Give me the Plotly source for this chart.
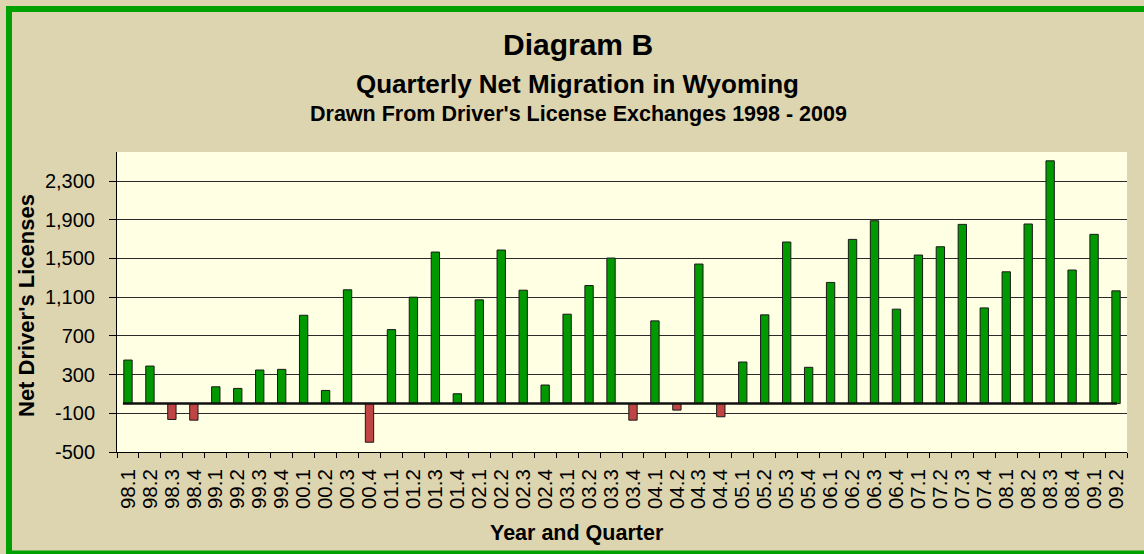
import plotly.graph_objects as go

quarters = ["98.1", "98.2", "98.3", "98.4", "99.1", "99.2", "99.3", "99.4",
            "00.1", "00.2", "00.3", "00.4", "01.1", "01.2", "01.3", "01.4",
            "02.1", "02.2", "02.3", "02.4", "03.1", "03.2", "03.3", "03.4",
            "04.1", "04.2", "04.3", "04.4", "05.1", "05.2", "05.3", "05.4",
            "06.1", "06.2", "06.3", "06.4", "07.1", "07.2", "07.3", "07.4",
            "08.1", "08.2", "08.3", "08.4", "09.1", "09.2"]
net_licenses = [450, 388, -164, -171, 174, 157, 347, 354,
                913, 136, 1176, -399, 765, 1100, 1566, 102,
                1072, 1587, 1172, 192, 924, 1220, 1504, -171,
                855, -67, 1442, -136, 430, 917, 1670, 375,
                1252, 1697, 1890, 976, 1535, 1621, 1852, 989,
                1362, 1856, 2509, 1380, 1749, 1165]
y_tick_values = [-500, -100, 300, 700, 1100, 1500, 1900, 2300]
y_tick_labels = ["-500", "-100", "300", "700", "1,100", "1,500", "1,900", "2,300"]

GREEN = "#009900"
RED = "#C04444"
PAPER = "#DDD5B0"
PLOT_BG = "#FFFFE3"
FONT = "Liberation Sans, Arial, sans-serif"

colors = [GREEN if v >= 0 else RED for v in net_licenses]

fig = go.Figure()
fig.add_trace(go.Bar(
    x=quarters, y=net_licenses,
    marker=dict(color=colors, line=dict(color="#1a1a1a", width=1)),
    hoverinfo="x+y", showlegend=False,
))

W, H = 1144, 554
L, R, T, B = 117, 17, 152, 102
pw, ph = W - L - R, H - T - B

def px(x):
    return (x - L) / pw

def py(y):
    return (H - B - y) / ph

fig.update_layout(
    width=W, height=H,
    margin=dict(l=L, r=R, t=T, b=B, pad=0, autoexpand=False),
    paper_bgcolor=PAPER, plot_bgcolor=PLOT_BG,
    bargap=0.62,
    font=dict(family=FONT, color="#000000"),
    xaxis=dict(
        type="category", tickangle=-90, tickson="boundaries",
        tickmode="array", tickvals=quarters, ticktext=quarters,
        ticks="outside", ticklen=5, tickcolor="#000000", tickwidth=1,
        showline=True, linecolor="#000000", linewidth=1,
        showgrid=False, tickfont=dict(size=20.5, family=FONT),
        ticklabelstandoff=8, automargin=False,
        range=[-0.5, len(quarters) - 0.5],
    ),
    yaxis=dict(
        range=[-500, 2600], tickmode="array", tickvals=y_tick_values, ticktext=y_tick_labels,
        ticks="outside", ticklen=7, tickcolor="#000000", tickwidth=1,
        showline=True, linecolor="#000000", linewidth=1,
        showgrid=True, gridcolor="#2a2a2a", gridwidth=1,
        zeroline=False, tickfont=dict(size=20, family=FONT),
        ticklabelstandoff=10, automargin=False,
    ),
)

# zero baseline spanning the bars
fig.add_shape(type="line", xref="x", yref="y",
              x0=-0.23, x1=len(quarters) - 1 + 0.04, y0=0, y1=0,
              line=dict(color="#111111", width=2.5), layer="above")

# tan strip on the far right (the frame's right edge is outside the picture)
fig.add_shape(type="rect", xref="paper", yref="paper",
              x0=px(1129), x1=px(1150), y0=py(0), y1=py(554),
              line=dict(width=0), fillcolor=PAPER, layer="above")

# outer green border (left, top, bottom edges)
border = dict(color="#00A000", width=6)
fig.add_shape(type="line", xref="paper", yref="paper",
              x0=px(9), x1=px(9), y0=py(6), y1=py(554), line=border)
fig.add_shape(type="line", xref="paper", yref="paper",
              x0=px(6), x1=px(1144), y0=py(9), y1=py(9), line=border)
fig.add_shape(type="line", xref="paper", yref="paper",
              x0=px(6), x1=px(1144), y0=py(553.5), y1=py(553.5), line=border)

anns = [
    dict(text="<b>Diagram B</b>", x=px(577.5), y=py(44.5), size=30),
    dict(text="<b>Quarterly Net Migration in Wyoming</b>", x=px(577.5), y=py(84), size=26),
    dict(text="<b>Drawn From Driver's License Exchanges 1998 - 2009</b>", x=px(578.5), y=py(114), size=21.5),
    dict(text="<b>Year and Quarter</b>", x=px(577), y=py(533), size=21.5),
]
for a in anns:
    fig.add_annotation(text=a["text"], x=a["x"], y=a["y"], xref="paper", yref="paper",
                       xanchor="center", yanchor="middle", showarrow=False,
                       font=dict(size=a["size"], family=FONT, color="#000000"))

fig.add_annotation(text="<b>Net Driver's Licenses</b>", x=px(26), y=py(306),
                   xref="paper", yref="paper", xanchor="center", yanchor="middle",
                   textangle=-90, showarrow=False,
                   font=dict(size=22, family=FONT, color="#000000"))

fig.write_html("out.html", config={"displayModeBar": False},
               post_script="document.body.style.margin='0';")
